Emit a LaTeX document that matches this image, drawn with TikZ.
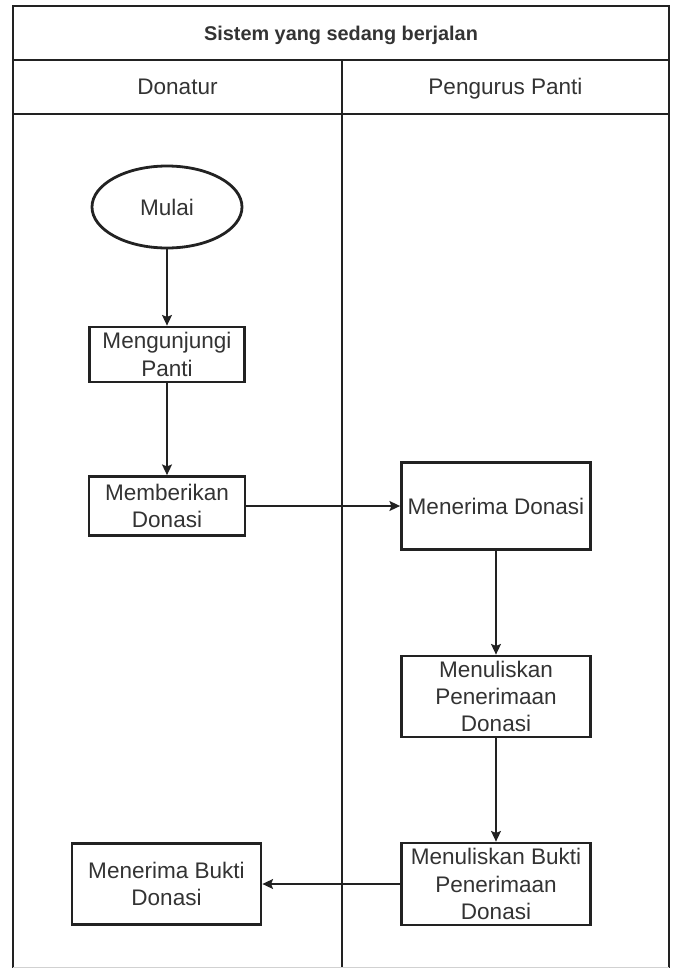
\documentclass[tikz,border=0pt]{standalone}
\usepackage{fontspec}
\setmainfont{Liberation Sans}
\usetikzlibrary{arrows.meta,shapes.geometric}
\definecolor{ink}{HTML}{222222}
\definecolor{txt}{HTML}{333333}
\begin{document}
\begin{tikzpicture}[x=0.75pt,y=-0.75pt,
  frame/.style={draw=ink,line width=2.1pt},
  lanehead/.style={font=\fontsize{16.9}{20}\selectfont,text=txt,anchor=base},
  proc/.style={draw=ink,line width=2.1pt,fill=white,align=center,inner sep=0pt,
    text=txt,font=\fontsize{16.9}{20.5}\selectfont,minimum width=141.75pt},
  terminal/.style={draw=ink,line width=2.1pt,fill=white,ellipse,inner sep=0pt,
    text=txt,font=\fontsize{16.9}{20.5}\selectfont},
  flow/.style={draw=ink,line width=1.1pt,-{Stealth[length=8pt,width=7.5pt,inset=1.5pt]}}]
\useasboundingbox (0,0) rectangle (675,968);

% swimlane frame
\draw[frame] (13,968) -- (13,6) -- (669,6) -- (669,968);
\draw[frame] (13,60) -- (669,60);
\draw[frame] (13,114) -- (669,114);
\draw[frame] (342,60) -- (342,968);
\draw[black!18,line width=0.6pt] (13,967.4) -- (669,967.4);

% titles
\node[font=\bfseries\fontsize{14.9}{18}\selectfont,text=txt,anchor=base] (title) at (341,40) {Sistem yang sedang berjalan};
\node[lanehead] (donatur) at (177.5,94) {Donatur};
\node[lanehead] (pengurus) at (505.5,94) {Pengurus Panti};

% Donatur lane
\node[terminal,minimum width=112.5pt,minimum height=61.5pt] (mulai) at (167,207) {Mulai};
\node[proc,minimum width=116.25pt,minimum height=41.25pt] (kunjung) at (167,354.5) {Mengunjungi\\Panti};
\node[proc,minimum width=117pt,minimum height=44.25pt] (beri) at (167,506) {Memberikan\\Donasi};
\node[proc,minimum height=60.75pt] (terimabukti) at (166.5,884) {Menerima Bukti\\Donasi};

% Pengurus Panti lane
\node[proc,minimum height=65.25pt] (terima) at (496,506) {Menerima Donasi};
\node[proc,minimum height=60.75pt] (tulis) at (496,696.5) {Menuliskan\\Penerimaan\\Donasi};
\node[proc,minimum height=61.5pt] (bukti) at (496,884) {Menuliskan Bukti\\Penerimaan\\Donasi};

% flow
\draw[flow] (mulai) -- (kunjung);
\draw[flow] (kunjung) -- (beri);
\draw[flow] (beri) -- (terima);
\draw[flow] (terima) -- (tulis);
\draw[flow] (tulis) -- (bukti);
\draw[flow] (bukti) -- (terimabukti);
\end{tikzpicture}
\end{document}
